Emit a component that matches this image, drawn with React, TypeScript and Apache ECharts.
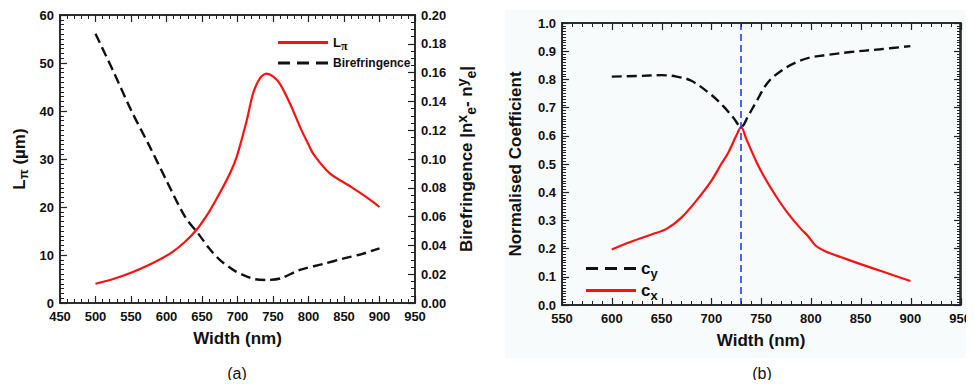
import React, { useEffect, useRef } from "react";
import * as echarts from "echarts";

// Panel (a)
const widthA = [500, 525, 550, 575, 605, 625, 642, 660, 675, 690, 699, 713, 722, 732, 741, 750, 760, 775, 788, 800, 808, 830, 860, 887, 900];
const lPi = [4.0, 5.0, 6.3, 7.9, 10.3, 12.6, 15.2, 19.0, 22.9, 27.2, 30.5, 38.0, 43.7, 46.9, 47.8, 47.2, 45.6, 41.2, 36.7, 33.0, 30.8, 27.0, 24.2, 21.5, 20.0];
const widthB1 = [500, 525, 551, 575, 600, 626, 645, 660, 675, 694, 710, 725, 741, 760, 788, 820, 850, 875, 900];
const biref = [0.187, 0.161, 0.133, 0.11, 0.085, 0.06, 0.048, 0.038, 0.03, 0.023, 0.019, 0.0165, 0.016, 0.017, 0.023, 0.027, 0.031, 0.034, 0.038];

// Panel (b)
const widthCy = [600, 625, 650, 665, 680, 700, 712, 722, 730, 737, 745, 757, 770, 785, 800, 817, 840, 870, 900];
const cy = [0.81, 0.812, 0.815, 0.81, 0.795, 0.745, 0.705, 0.665, 0.632, 0.67, 0.72, 0.79, 0.83, 0.86, 0.878, 0.887, 0.897, 0.907, 0.918];
const widthCx = [600, 620, 640, 655, 670, 685, 700, 710, 717, 725, 730, 735, 745, 755, 767, 777, 790, 797, 805, 815, 830, 850, 875, 900];
const cx = [0.197, 0.225, 0.25, 0.27, 0.31, 0.37, 0.44, 0.5, 0.54, 0.6, 0.632, 0.59, 0.51, 0.443, 0.375, 0.325, 0.27, 0.245, 0.21, 0.19, 0.17, 0.145, 0.115, 0.085];
const markerWidth = 730;

const FONT = 'Arial, "Liberation Sans", sans-serif';
const SOLID_ICON = "path://M0,0L50,0L50,3L0,3Z";
const DASH_ICON = "path://M0,0L12,0L12,3L0,3Z M19,0L31,0L31,3L19,3Z M38,0L50,0L50,3L38,3Z";

const GRIDS = [
  { left: 60, right: 559, top: 15, bottom: 85 },
  { left: 562, right: 13, top: 23, bottom: 83 },
];

const zip = (xs: number[], ys: number[]) => xs.map((x, i) => [x, ys[i]]);
const mkName = () => ({ fontFamily: FONT, fontSize: 17, fontWeight: "bold", color: "#111" });
const mkLabel = (digits: number, margin: number) => ({
  show: true,
  fontFamily: FONT,
  fontSize: 13,
  fontWeight: "bold",
  color: "#111",
  margin,
  formatter: (v: number) => v.toFixed(digits),
});

// ---------- main chart: curves, labels, names, legends ----------
function mainOption() {
  const plain = (extra: any) => ({
    type: "value",
    axisLine: { show: true, onZero: false, lineStyle: { color: "#222", width: 1.5 } },
    axisTick: { show: false },
    minorTick: { show: false },
    splitLine: { show: false },
    ...extra,
  });
  const legendItem = (name: string, icon: string, left: number, top: number, fontSize: number, formatter: (n: string) => string, rich: any) => ({
    data: [{ name, icon }],
    orient: "vertical",
    left,
    top,
    itemWidth: 50,
    itemHeight: 3,
    symbolKeepAspect: false,
    textStyle: { fontFamily: FONT, fontSize, fontWeight: "bold", color: "#111", rich },
    formatter,
  });
  const richLpi = { b: mkName(), s: { ...mkName(), fontSize: 13, padding: [9, 0, 0, 0] } };
  const richBiref = {
    b: mkName(),
    sup: { ...mkName(), fontSize: 14, padding: [0, 0, 9, 0] },
    sub: { ...mkName(), fontSize: 14, padding: [9, 0, 0, 0] },
  };
  const richLegB = {
    n: { fontFamily: FONT, fontSize: 17, fontWeight: "bold", color: "#111" },
    s: { fontFamily: FONT, fontSize: 13, fontWeight: "bold", color: "#111", padding: [9, 0, 0, 0] },
  };
  return {
    animation: false,
    graphic: [
      { type: "rect", z: -10, shape: { x: 505, y: 10, width: 469, height: 348 }, style: { fill: "#f8fbfc" }, silent: true },
      { type: "text", x: 237, y: 373, style: { text: "(a)", font: `16px ${FONT}`, fill: "#111", align: "center", verticalAlign: "middle" } },
      { type: "text", x: 762, y: 373, style: { text: "(b)", font: `16px ${FONT}`, fill: "#111", align: "center", verticalAlign: "middle" } },
    ],
    grid: GRIDS,
    legend: [
      legendItem("Lπ", SOLID_ICON, 273, 31, 13, () => "{n|L}{s|π}", {
        n: { fontFamily: FONT, fontSize: 13, fontWeight: "bold", color: "#111" },
        s: { fontFamily: "serif", fontSize: 12, color: "#111", padding: [6, 0, 0, 0] },
      }),
      legendItem("Birefringence", DASH_ICON, 273, 52, 12, (n) => "{n|" + n + "}", {
        n: { fontFamily: FONT, fontSize: 12, fontWeight: "bold", color: "#111" },
      }),
      legendItem("cy", DASH_ICON, 581, 255, 17, (n) => "{n|c}{s|" + n.slice(1) + "}", richLegB),
      legendItem("cx", SOLID_ICON, 581, 277, 17, (n) => "{n|c}{s|" + n.slice(1) + "}", richLegB),
    ],
    xAxis: [
      plain({ gridIndex: 0, position: "bottom", min: 450, max: 950, interval: 50, name: "Width (nm)", nameLocation: "middle", nameGap: 27, nameTextStyle: mkName(), axisLabel: mkLabel(0, 7) }),
      plain({ gridIndex: 0, position: "top", min: 450, max: 950, interval: 50, axisLabel: { show: false } }),
      plain({ gridIndex: 1, position: "bottom", min: 550, max: 950, interval: 50, name: "Width (nm)", nameLocation: "middle", nameGap: 27, nameTextStyle: mkName(), axisLabel: mkLabel(0, 7) }),
      plain({ gridIndex: 1, position: "top", min: 550, max: 950, interval: 50, axisLabel: { show: false } }),
    ],
    yAxis: [
      plain({ gridIndex: 0, position: "left", min: 0, max: 60, interval: 10, name: "{b|L}{s|π}{b| (µm)}", nameLocation: "middle", nameGap: 30, nameRotate: 90, nameTextStyle: { ...mkName(), rich: richLpi }, axisLabel: mkLabel(0, 6) }),
      plain({ gridIndex: 0, position: "right", min: 0, max: 0.2, interval: 0.02, name: "{b|Birefringence |n}{sup|x}{sub|e}{b|- n}{sup|y}{sub|e}{b||}", nameLocation: "middle", nameGap: 40, nameRotate: 90, nameTextStyle: { ...mkName(), rich: richBiref }, axisLabel: mkLabel(2, 6) }),
      plain({ gridIndex: 1, position: "left", min: 0, max: 1, interval: 0.1, name: "Normalised Coefficient", nameLocation: "middle", nameGap: 38, nameRotate: 90, nameTextStyle: mkName(), axisLabel: mkLabel(1, 6) }),
      plain({ gridIndex: 1, position: "right", min: 0, max: 1, interval: 0.1, axisLabel: { show: false } }),
    ],
    series: [
      { name: "Lπ", type: "line", xAxisIndex: 0, yAxisIndex: 0, data: zip(widthA, lPi), smooth: 0.3, symbol: "none", color: "#ff1010", lineStyle: { color: "#ff1010", width: 2.2 } },
      { name: "Birefringence", type: "line", xAxisIndex: 0, yAxisIndex: 1, data: zip(widthB1, biref), smooth: 0.3, symbol: "none", color: "#111", lineStyle: { color: "#111", width: 2.4, type: [10, 5] } },
      { name: "cy", type: "line", xAxisIndex: 2, yAxisIndex: 2, data: zip(widthCy, cy), smooth: 0.35, symbol: "none", color: "#111", lineStyle: { color: "#111", width: 2.4, type: [10, 5] } },
      {
        name: "cx", type: "line", xAxisIndex: 2, yAxisIndex: 2, data: zip(widthCx, cx), smooth: 0.3, symbol: "none", color: "#ff1010", lineStyle: { color: "#ff1010", width: 2.2 },
        markLine: { silent: true, symbol: "none", label: { show: false }, lineStyle: { color: "#1a2cff", width: 1.5, type: [7, 4] }, data: [{ xAxis: markerWidth }] },
      },
    ],
  };
}

// ---------- overlay chart: only the frame with major and minor ticks ----------
function tickOption() {
  const frame = (extra: any, minorSplit: number) => ({
    type: "value",
    axisLine: { show: true, onZero: false, lineStyle: { color: "#222", width: 1.5 } },
    axisTick: { show: true, inside: true, length: 7, lineStyle: { color: "#222", width: 1.2 } },
    minorTick: { show: true, splitNumber: minorSplit, length: 4, lineStyle: { color: "#222", width: 1 } },
    splitLine: { show: false },
    axisLabel: { show: false },
    ...extra,
  });
  return {
    animation: false,
    backgroundColor: "transparent",
    grid: GRIDS,
    xAxis: [
      frame({ gridIndex: 0, position: "bottom", min: 450, max: 950, interval: 50 }, 5),
      frame({ gridIndex: 0, position: "top", min: 450, max: 950, interval: 50 }, 5),
      frame({ gridIndex: 1, position: "bottom", min: 550, max: 950, interval: 50 }, 5),
      frame({ gridIndex: 1, position: "top", min: 550, max: 950, interval: 50 }, 5),
    ],
    yAxis: [
      frame({ gridIndex: 0, position: "left", min: 0, max: 60, interval: 10 }, 10),
      frame({ gridIndex: 0, position: "right", min: 0, max: 0.2, interval: 0.02 }, 4),
      frame({ gridIndex: 1, position: "left", min: 0, max: 1, interval: 0.1 }, 10),
      frame({ gridIndex: 1, position: "right", min: 0, max: 1, interval: 0.1 }, 10),
    ],
    series: [
      { type: "line", xAxisIndex: 0, yAxisIndex: 0, data: [] },
      { type: "line", xAxisIndex: 2, yAxisIndex: 2, data: [] },
    ],
  };
}

function Layer({ build }: { build: () => any }) {
  const ref = useRef<HTMLDivElement>(null);
  useEffect(() => {
    if (!ref.current) return;
    const chart = echarts.init(ref.current, undefined, { renderer: "svg" });
    chart.setOption(build());
    return () => chart.dispose();
  }, []);
  return <div ref={ref} style={{ position: "absolute", left: 0, top: 0, width: 974, height: 388 }} />;
}

export default function App() {
  return (
    <div style={{ position: "relative", width: 974, height: 388, margin: -8 }}>
      <Layer build={mainOption} />
      <Layer build={tickOption} />
    </div>
  );
}
